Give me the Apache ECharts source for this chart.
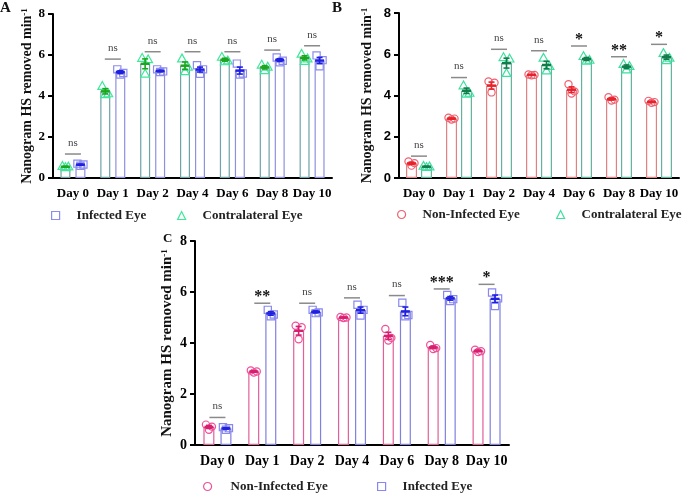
<!DOCTYPE html>
<html><head><meta charset="utf-8">
<script src="https://cdn.jsdelivr.net/npm/echarts@6/dist/echarts.min.js"></script>
<style>html,body{margin:0;padding:0;background:#fff}#c{width:683px;height:498px}</style>
</head><body><div id="c"></div>
<script>
// ---------- data ----------
const days = ['Day 0','Day 1','Day 2','Day 4','Day 6','Day 8','Day 10'];
const yTicks = [0, 2, 4, 6, 8];

const contraMean = [0.55, 4.23, 5.57, 5.48, 5.77, 5.40, 5.86];
const contraSem  = [0.02, 0.13, 0.24, 0.18, 0.07, 0.08, 0.10];
const contraPts  = [[0.58,0.55,0.52],[4.48,4.12,4.08],[5.85,5.78,5.08],[5.82,5.42,5.20],[5.90,5.72,5.68],[5.52,5.42,5.25],[6.05,5.82,5.70]];

const infMean = [0.65, 5.16, 5.22, 5.29, 5.24, 5.75, 5.73];
const infSem  = [0.03, 0.07, 0.04, 0.12, 0.17, 0.07, 0.15];
const infPts  = [[0.70,0.66,0.60],[5.30,5.12,5.05],[5.30,5.20,5.17],[5.50,5.30,5.08],[5.58,5.10,5.05],[5.88,5.72,5.65],[5.98,5.75,5.45]];

const nonMean = [0.71, 2.88, 4.48, 5.00, 4.28, 3.83, 3.69];
const nonSem  = [0.06, 0.03, 0.17, 0.02, 0.14, 0.05, 0.03];
const nonPts  = [[0.80,0.72,0.60],[2.92,2.88,2.84],[4.68,4.62,4.15],[5.02,5.00,4.98],[4.55,4.20,4.10],[3.92,3.80,3.76],[3.74,3.68,3.65]];

const sigA_y = [1.17, 5.80, 6.16, 6.16, 6.16, 6.24, 6.45];
const sigA_t = ['ns','ns','ns','ns','ns','ns','ns'];
const sigB_y = [1.06, 4.87, 6.24, 6.17, 6.40, 5.88, 6.48];
const sigB_t = ['ns','ns','ns','ns','*','**','*'];
const sigC_y = [1.08, 5.56, 5.56, 5.77, 5.86, 6.12, 6.30];
const sigC_t = ['ns','**','ns','ns','ns','***','*'];

const yTitle = 'Nanogram HS removed min';
const ySup = '-1';

// ---------- styling ----------
const SERIF = '"Liberation Serif","Times New Roman",serif';
const SANS = '"Liberation Sans",Arial,sans-serif';
const JIT = [-3, 3, 0];

const panels = [
  { grid:{left:53, top:14, width:279, height:164}, tickFont:SERIF, tickSize:13, nameGap:19, nameSize:14, catSize:13, bw:10, gap:'50%', off:7.5, sigHalf:8,
    sigY:sigA_y, sigT:sigA_t,
    L:{name:'Contralateral Eye', mean:contraMean, sem:contraSem, pts:contraPts, bar:'#6fa3a6', err:'#1ea51e', mk:'#3ee89a', shape:'triangle'},
    R:{name:'Infected Eye', mean:infMean, sem:infSem, pts:infPts, bar:'#9090e0', err:'#1f1fe0', mk:'#8b8bf0', shape:'square'} },
  { grid:{left:399, top:13, width:280, height:165}, tickFont:SANS, tickSize:13, nameGap:25, nameSize:14, catSize:13, bw:11, gap:'36%', off:7.5, sigHalf:8,
    sigY:sigB_y, sigT:sigB_t,
    L:{name:'Non-Infected Eye', mean:nonMean, sem:nonSem, pts:nonPts, bar:'#e08080', err:'#e8222a', mk:'#f06070', shape:'circle'},
    R:{name:'Contralateral Eye', mean:contraMean, sem:contraSem, pts:contraPts, bar:'#62b39b', err:'#137a4a', mk:'#3ee0a0', shape:'triangle'} },
  { grid:{left:195, top:241, width:314, height:204}, tickFont:SERIF, tickSize:14, nameGap:20, nameSize:15, catSize:14, bw:11, gap:'55%', off:8.5, sigHalf:8,
    sigY:sigC_y, sigT:sigC_t,
    L:{name:'Non-Infected Eye', mean:nonMean, sem:nonSem, pts:nonPts, bar:'#e0609a', err:'#d81e6e', mk:'#f0509a', shape:'circle'},
    R:{name:'Infected Eye', mean:infMean, sem:infSem, pts:infPts, bar:'#8080e0', err:'#2020e0', mk:'#8888f0', shape:'square'} }
];

function markerEl(shape, x, y, color){
  const st = {fill:'rgba(255,255,255,0)', stroke:color, lineWidth:1.2};
  if (shape === 'circle') return {type:'circle', shape:{cx:x, cy:y, r:3.6}, style:st};
  if (shape === 'square') return {type:'rect', shape:{x:x-3.6, y:y-3.6, width:7.2, height:7.2}, style:st};
  return {type:'polygon', shape:{points:[[x, y-4.6],[x-4.4, y+3.2],[x+4.4, y+3.2]]}, style:st};
}
function ptsRender(off, shape, color){
  return (params, api) => {
    const c = api.coord([api.value(0), api.value(1)]);
    return markerEl(shape, c[0] + off + JIT[api.value(2)], c[1], color);
  };
}
function errRender(off, color){
  return (params, api) => {
    const i = api.value(0), m = api.value(1), s = api.value(2);
    const pm = api.coord([i, m]), pt = api.coord([i, m + s]), pb = api.coord([i, m - s]);
    const x = pm[0] + off;
    const ls = {stroke:color, lineWidth:1.6};
    return {type:'group', children:[
      {type:'line', shape:{x1:x, y1:pt[1], x2:x, y2:pb[1]}, style:ls},
      {type:'line', shape:{x1:x-3, y1:pt[1], x2:x+3, y2:pt[1]}, style:ls},
      {type:'line', shape:{x1:x-3, y1:pb[1], x2:x+3, y2:pb[1]}, style:ls},
      {type:'line', shape:{x1:x-4.5, y1:pm[1], x2:x+4.5, y2:pm[1]}, style:{stroke:color, lineWidth:2.4}}
    ]};
  };
}
function sigRender(labels, half){
  return (params, api) => {
    const c = api.coord([api.value(0), api.value(1)]);
    const t = labels[params.dataIndex];
    const star = t !== 'ns';
    return {type:'group', children:[
      {type:'line', shape:{x1:c[0]-half, y1:c[1], x2:c[0]+half, y2:c[1]}, style:{stroke:'#8a8a8a', lineWidth:1.5}},
      {type:'text', x:c[0], y:c[1] - (star ? 6 : 11), style:{text:t, align:'center', verticalAlign:'middle',
        fontFamily:SERIF, fontSize: star ? 16 : 11, fontWeight: star ? 'bold' : 'normal', fill: star ? '#111' : '#444'}}
    ]};
  };
}

const grid = [], xAxis = [], yAxis = [], series = [];
panels.forEach((p, k) => {
  grid.push(p.grid);
  xAxis.push({type:'category', gridIndex:k, data:days,
    axisLine:{lineStyle:{color:'#000', width:2}},
    axisTick:{alignWithLabel:true, length:5, lineStyle:{color:'#000', width:2}},
    axisLabel:{color:'#000', fontFamily:SERIF, fontWeight:'bold', fontSize:p.catSize, margin:9, interval:0}});
  yAxis.push({type:'value', gridIndex:k, min:yTicks[0], max:yTicks[yTicks.length-1], interval:2,
    splitLine:{show:false},
    axisLine:{show:true, lineStyle:{color:'#000', width:2}},
    axisTick:{show:true, length:5, lineStyle:{color:'#000', width:2}},
    axisLabel:{color:'#000', fontFamily:p.tickFont, fontWeight:'bold', fontSize:p.tickSize, margin:8},
    name: yTitle + '{s|' + ySup + '}', nameLocation:'middle', nameGap:p.nameGap, nameRotate:90, nameMoveOverlap:false,
    nameTextStyle:{color:'#111', fontFamily:SERIF, fontWeight:'bold', fontSize:p.nameSize,
      rich:{s:{color:'#111', fontFamily:SERIF, fontWeight:'bold', fontSize:Math.round(p.nameSize*0.62), verticalAlign:'top'}}}});
  [['L', -p.off], ['R', p.off]].forEach(([side, off]) => {
    const s = p[side];
    series.push({type:'bar', name:s.name, xAxisIndex:k, yAxisIndex:k, data:s.mean, barWidth:p.bw, barGap:p.gap, z:2,
      itemStyle:{color:'rgba(255,255,255,0)', borderColor:s.bar, borderWidth:1.2}, silent:true});
  });
  [['L', -p.off], ['R', p.off]].forEach(([side, off]) => {
    const s = p[side];
    const ptData = [];
    s.pts.forEach((arr, i) => arr.forEach((v, j) => ptData.push([i, v, j])));
    series.push({type:'custom', name:s.name + ' points', xAxisIndex:k, yAxisIndex:k, z:3, silent:true,
      renderItem:ptsRender(off, s.shape, s.mk), data:ptData});
    series.push({type:'custom', name:s.name + ' mean±SEM', xAxisIndex:k, yAxisIndex:k, z:4, silent:true,
      renderItem:errRender(off, s.err), data:s.mean.map((m, i) => [i, m, s.sem[i]])});
  });
  series.push({type:'custom', name:'significance', xAxisIndex:k, yAxisIndex:k, z:5, silent:true,
    renderItem:sigRender(p.sigT, p.sigHalf), data:p.sigY.map((v, i) => [i, v])});
});

function leg(name, icon, color, left, top, pad){
  return {data:[{name:name, icon:icon, itemStyle:{color:'rgba(255,255,255,0)', borderColor:color, borderWidth:1.2}}],
    left:left, top:top, padding:0, itemWidth:8, itemHeight:8, selectedMode:false,
    textStyle:{fontFamily:SERIF, fontWeight:'bold', fontSize:13, color:'#222', padding:[0,0,0,pad]}};
}
const legend = [
  leg('Infected Eye', 'rect', '#8b8bf0', 51, 209, 12),
  leg('Contralateral Eye', 'triangle', '#3ee89a', 177, 209, 12),
  leg('Non-Infected Eye', 'circle', '#f06070', 397, 208, 12),
  leg('Contralateral Eye', 'triangle', '#3ee0a0', 556, 208, 12),
  leg('Non-Infected Eye', 'circle', '#f0509a', 203, 480, 14),
  leg('Infected Eye', 'rect', '#8888f0', 377, 480, 12)
];

const graphic = [
  {type:'text', left:0, top:1, style:{text:'A', fontFamily:SERIF, fontWeight:'bold', fontSize:15, fill:'#111'}},
  {type:'text', left:332, top:1, style:{text:'B', fontFamily:SERIF, fontWeight:'bold', fontSize:15, fill:'#111'}},
  {type:'text', left:163, top:232, style:{text:'C', fontFamily:SERIF, fontWeight:'bold', fontSize:13, fill:'#111'}}
];

const chart = echarts.init(document.getElementById('c'), null, {renderer:'canvas'});
chart.setOption({animation:false, backgroundColor:'#fff', grid, xAxis, yAxis, series, legend, graphic});
</script>
</body></html>
